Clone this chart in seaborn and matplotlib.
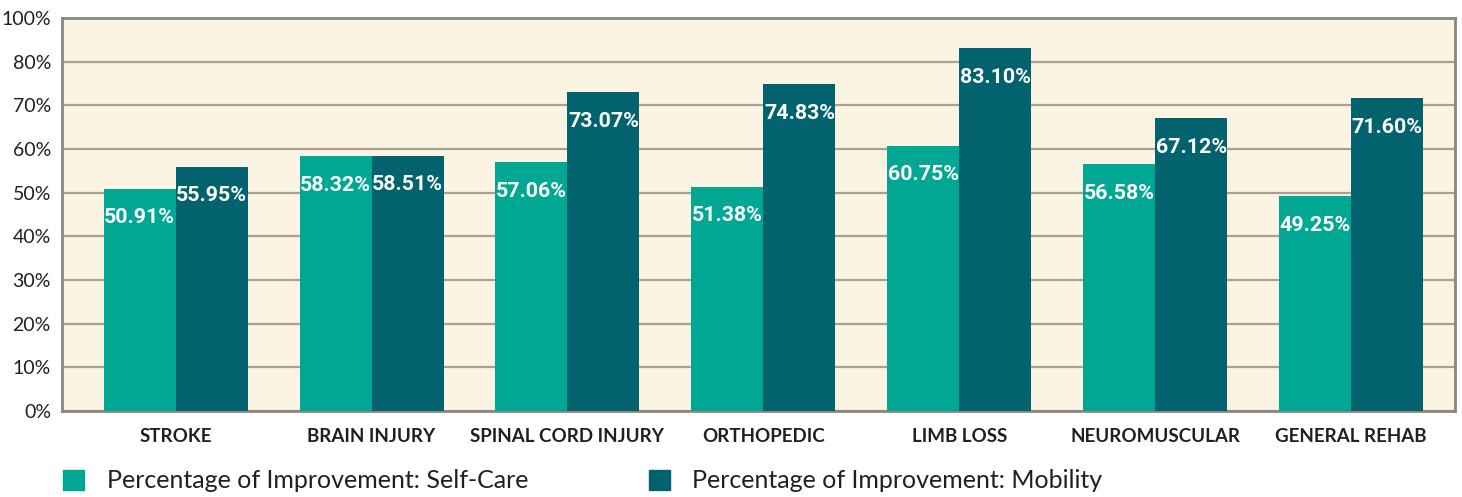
import pandas as pd
import matplotlib.pyplot as plt
import seaborn as sns
from matplotlib import font_manager
from matplotlib.textpath import TextPath

categories = ["STROKE", "BRAIN INJURY", "SPINAL CORD INJURY", "ORTHOPEDIC",
              "LIMB LOSS", "NEUROMUSCULAR", "GENERAL REHAB"]
self_care = [50.91, 58.32, 57.06, 51.38, 60.75, 56.58, 49.25]
mobility = [55.95, 58.51, 73.07, 74.83, 83.10, 67.12, 71.60]
series = ["Percentage of Improvement: Self-Care", "Percentage of Improvement: Mobility"]
yticks = [0, 10, 20, 30, 40, 50, 60, 70, 80, 90]
ytick_labels = ["0%", "10%", "20%", "30%", "40%", "50%", "60%", "70%", "80%", "100%"]

df = pd.DataFrame({
    "Category": categories * 2,
    "Value": self_care + mobility,
    "Series": [series[0]] * len(categories) + [series[1]] * len(categories),
})

# bar labels: bold Roboto, sized so "55.95%" roughly fills a bar
label_font = font_manager.FontProperties(family=["Roboto", "DejaVu Sans"], weight="bold", size=100)
ext = TextPath((0, 0), "55.95%", prop=label_font).get_extents()
label_font.set_size(min(69 * 72 / ext.width, 20 * 72 / ext.height))

sns.set_style("white")
plt.rcParams['font.family'] = ['Lato', 'DejaVu Sans']

fig = plt.figure(figsize=(14.62, 4.97), dpi=100)
ax = fig.add_axes([62 / 1462, 1 - 411 / 497, 1393 / 1462, 393 / 497])
ax.set_facecolor("#fcf4e3")

sns.barplot(data=df, x="Category", y="Value", hue="Series", ax=ax,
            palette=["#00a793", "#02636e"], width=0.735, saturation=1,
            linewidth=0, zorder=3)

ax.set_ylim(0, 90)
ax.set_xlim(-0.58, 6.53)
ax.set_yticks(yticks)
ax.set_yticklabels(ytick_labels, fontsize=14, color="#231f20")
ax.yaxis.grid(True, color="#a9a190", linewidth=1.6, zorder=0)
ax.set_axisbelow(True)
ax.tick_params(axis="both", length=0)
ax.tick_params(axis="y", pad=8)
ax.tick_params(axis="x", pad=12)
for lab in ax.get_xticklabels():
    lab.set_fontsize(13.5)
    lab.set_fontweight("bold")
    lab.set_color("#231f20")
ax.set_xlabel("")
ax.set_ylabel("")

for side in ["left", "bottom", "right", "top"]:
    ax.spines[side].set_visible(True)
    ax.spines[side].set_color("#8c877c")
    ax.spines[side].set_linewidth(2)

for cont in ax.containers:
    for bar in cont:
        ax.annotate(f"{bar.get_height():.2f}%",
                    (bar.get_x() + bar.get_width() / 2, bar.get_height()),
                    xytext=(0, -25), textcoords="offset points",
                    ha="center", va="baseline", color="white",
                    fontproperties=label_font, zorder=5)

ax.legend_.remove()
handles = [plt.Rectangle((0, 0), 1, 1, color="#00a793"),
           plt.Rectangle((0, 0), 1, 1, color="#02636e")]
fig.legend(handles, series, loc="center left", bbox_to_anchor=(63 / 1462, 1 - 481 / 497),
           ncol=2, frameon=False, fontsize=18, handlelength=0.84, handleheight=0.84,
           handletextpad=0.92, columnspacing=4.8, borderpad=0, borderaxespad=0,
           labelcolor="#231f20")

fig.savefig("out.png", dpi=100)
